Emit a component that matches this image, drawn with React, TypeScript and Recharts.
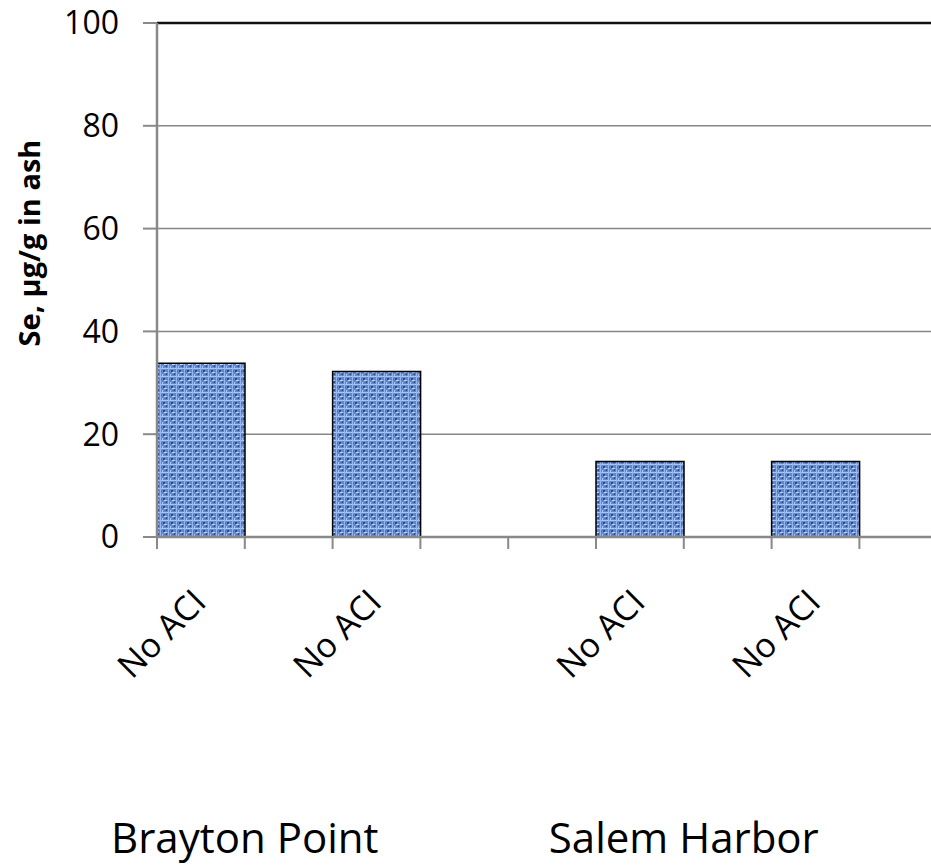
import React from 'react';
import { BarChart, Bar, XAxis, YAxis, CartesianGrid, ReferenceLine } from 'recharts';

// ---- data ----
const slotLabels = ['No ACI', '', 'No ACI', '', '', 'No ACI', '', 'No ACI', '', ''];
const seValues: (number | null)[] = [33.8, null, 32.2, null, null, 14.7, null, 14.7, null, null];
const groupNames = ['Brayton Point', 'Salem Harbor'];
const groupStartSlots = [1, 6]; // group label centred on the left boundary of these slots
const yTicks = [0, 20, 40, 60, 80, 100];
const yTitle = 'Se, \u00b5g/g in ash';

const data = slotLabels.map((slot, i) => ({ slot, se: seValues[i] }));

const FONT = "'Open Sans', sans-serif";
const AXIS_GRAY = '#898989';

const SlotTick = (props: any) => {
  const { x, y, payload, index, width, visibleTicksCount } = props;
  const half =
    payload && typeof payload.offset === 'number' && payload.offset > 0
      ? payload.offset
      : width / (visibleTicksCount || slotLabels.length) / 2;
  const bx = x - half;
  const label = payload ? payload.value : '';
  const ax = x + 7;
  const ay = y + 67;
  const g = groupStartSlots.indexOf(index);
  return (
    <g>
      <line x1={bx} x2={bx} y1={y} y2={y + 12} stroke={AXIS_GRAY} strokeWidth={2} />
      {label ? (
        <text
          x={ax}
          y={ay}
          textAnchor="end"
          fontSize={34}
          fontFamily={FONT}
          fill="#000"
          transform={`rotate(-45, ${ax}, ${ay})`}
        >
          {label}
        </text>
      ) : null}
      {g >= 0 ? (
        <text x={bx} y={y + 316} textAnchor="middle" fontSize={42} fontFamily={FONT} fill="#000">
          {groupNames[g]}
        </text>
      ) : null}
    </g>
  );
};

const YTitle = () => (
  <text
    x={40}
    y={243}
    textAnchor="middle"
    fontSize={29}
    fontWeight="bold"
    fontFamily={FONT}
    fill="#000"
    transform="rotate(-90, 40, 243)"
  >
    {yTitle}
  </text>
);

export default function App() {
  return (
    <div style={{ position: 'absolute', left: 0, top: 0, width: 931, height: 865, overflow: 'hidden', background: '#fff' }}>
      <BarChart
        width={1035}
        height={865}
        data={data}
        margin={{ top: 23, right: 0, left: 0, bottom: 0 }}
        barCategoryGap={0}
        barGap={0}
        style={{ fontFamily: FONT }}
      >
        <defs>
          <pattern id="burlap" width="8" height="8" patternUnits="userSpaceOnUse">
            <rect x="0" y="0" width="8" height="8" fill="#6189d0" />
            <rect x="0" y="0" width="8" height="1" fill="#aac6f2" />
            <rect x="0" y="0" width="1" height="8" fill="#97b6ec" />
            <rect x="4" y="4" width="3" height="1" fill="#c3d8f8" />
            <rect x="2" y="6" width="1" height="2" fill="#a3c0f0" />
            <rect x="3" y="2" width="2" height="2" fill="#2a4d93" />
            <rect x="6" y="5" width="1" height="2" fill="#24437f" />
            <rect x="1" y="3" width="1" height="1" fill="#3a60aa" />
            <rect x="5" y="6" width="1" height="1" fill="#476db5" />
          </pattern>
        </defs>
        <CartesianGrid vertical={false} stroke="#868686" strokeWidth={1.5} />
        <ReferenceLine y={100} stroke="#111" strokeWidth={2.5} />
        <XAxis
          dataKey="slot"
          type="category"
          height={328}
          axisLine={{ stroke: AXIS_GRAY, strokeWidth: 2.5 }}
          tickLine={false}
          tickSize={0}
          tickMargin={0}
          interval={0}
          tick={<SlotTick />}
        />
        <YAxis
          domain={[0, 100]}
          ticks={yTicks}
          width={157}
          tickSize={14}
          tickMargin={24}
          axisLine={{ stroke: AXIS_GRAY, strokeWidth: 2.5 }}
          tickLine={{ stroke: AXIS_GRAY, strokeWidth: 2 }}
          tick={{ fontSize: 32, fill: '#000', fontFamily: FONT }}
          label={<YTitle />}
        />
        <Bar
          dataKey="se"
          fill="url(#burlap)"
          stroke="#000"
          strokeWidth={1.5}
          isAnimationActive={false}
        />
      </BarChart>
    </div>
  );
}
